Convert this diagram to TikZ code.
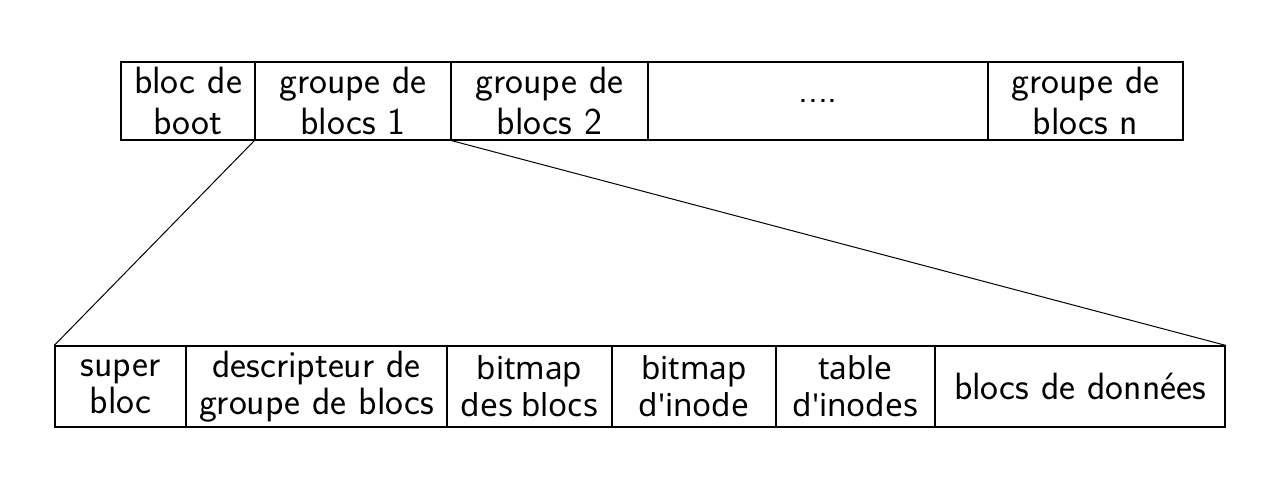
\documentclass[tikz,border=0pt]{standalone}
\usepackage{fontspec}
\newfontfamily\robfont{Noto Sans}
\begin{document}
\begin{tikzpicture}[x=1pt,y=-1pt,
  cell/.style={draw=black,line width=1.3pt,inner sep=0pt,align=center,
    font=\sffamily\fontsize{38}{41}\selectfont},
  bcell/.style={cell,font=\sffamily\fontsize{38}{37}\selectfont},
  rcell/.style={cell,font=\robfont\fontsize{31.5}{37}\selectfont},
  conn/.style={draw=black,line width=1pt}]
\useasboundingbox[fill=white] (0,0) rectangle (1280,488);
% top row
\node[cell,minimum width=134pt,minimum height=78pt] (boot) at (188,101) {bloc de\\boot};
\node[cell,minimum width=196pt,minimum height=78pt] (g1) at (353,101) {groupe de\\blocs 1};
\node[cell,minimum width=197pt,minimum height=78pt] (g2) at (549.5,101) {groupe de\\blocs 2};
\node[cell,minimum width=340pt,minimum height=78pt] (gdots) at (818,101) {....};
\node[cell,minimum width=195pt,minimum height=78pt] (gn) at (1085.5,101) {groupe de\\blocs n};
% bottom row
\node[bcell,minimum width=131pt,minimum height=81pt] (sb) at (120.5,386.5) {super\\bloc};
\node[bcell,minimum width=261pt,minimum height=81pt] (desc) at (316.5,386.5) {descripteur de\\groupe de blocs};
\node[rcell,minimum width=165pt,minimum height=81pt] (bmb) at (529.5,386.5) {bitmap\\des blocs};
\node[rcell,minimum width=164pt,minimum height=81pt] (bmi) at (694,386.5) {bitmap\\d'inode};
\node[rcell,minimum width=159pt,minimum height=81pt] (tab) at (855.5,386.5) {table\\d'inodes};
\node[bcell,minimum width=290pt,minimum height=81pt] (data) at (1080,386.5) {blocs de données};
% connectors
\draw[conn] (g1.south west) -- (sb.north west);
\draw[conn] (g1.south east) -- (data.north east);
\end{tikzpicture}
\end{document}
